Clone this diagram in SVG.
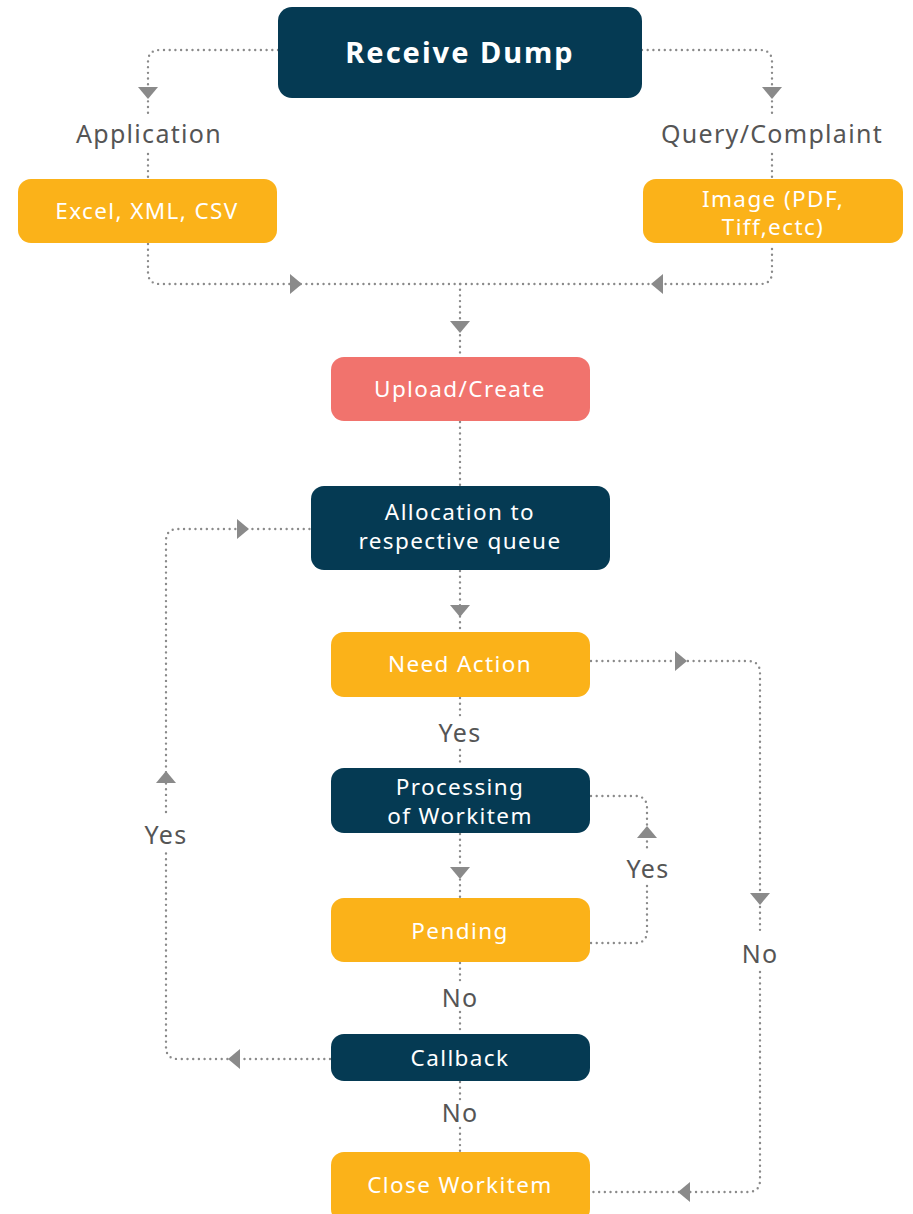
<svg xmlns="http://www.w3.org/2000/svg" width="913" height="1214" viewBox="0 0 913 1214">
<style>
.dark{fill:#053a53}
.org{fill:#fbb219}
.sal{fill:#f1736d}
.t{font-family:"Noto Sans","Open Sans",sans-serif;fill:#fff;font-size:22.5px;letter-spacing:1.4px;text-anchor:middle}
.lb{font-family:"Noto Sans","Open Sans",sans-serif;fill:#555;font-size:25px;letter-spacing:1.3px;text-anchor:middle}
.c{fill:none;stroke:#8a8a8a;stroke-width:2.4;stroke-linecap:round;stroke-dasharray:0 5.7}
.ah{fill:#8a8a8a}
</style>
<defs>
<path id="ar" d="M-5,-10 L7,0 L-5,10 Z"/>
</defs>
<rect width="913" height="1214" fill="#fff"/>
<g id="connectors">
<path class="c" d="M278,50 H160 Q148,50 148,62 V118"/>
<path class="c" d="M148,154 V178"/>
<path class="c" d="M642,50 H760 Q772,50 772,62 V118"/>
<path class="c" d="M772,154 V178"/>
<path class="c" d="M148,244 V272 Q148,284 160,284 H760 Q772,284 772,272 V244"/>
<path class="c" d="M460,284 V356"/>
<path class="c" d="M460,422 V486"/>
<path class="c" d="M460,571 V631"/>
<path class="c" d="M460,698 V718"/>
<path class="c" d="M460,750 V767"/>
<path class="c" d="M460,834 V897"/>
<path class="c" d="M460,963 V985"/>
<path class="c" d="M460,1012 V1033"/>
<path class="c" d="M460,1082 V1100"/>
<path class="c" d="M460,1128 V1151"/>
<path class="c" d="M591,661 H748 Q760,661 760,673 V935"/>
<path class="c" d="M760,972 V1180 Q760,1192 748,1192 H591"/>
<path class="c" d="M591,796 H635 Q647,796 647,808 V850"/>
<path class="c" d="M647,886 V931 Q647,943 635,943 H591"/>
<path class="c" d="M330,1059 H178 Q166,1059 166,1047 V852"/>
<path class="c" d="M166,812 V541 Q166,529 178,529 H310"/>
<g class="ah">
<use href="#ar" transform="translate(148,92) rotate(90)"/>
<use href="#ar" transform="translate(772,92) rotate(90)"/>
<use href="#ar" transform="translate(295,284)"/>
<use href="#ar" transform="translate(658,284) rotate(180)"/>
<use href="#ar" transform="translate(460,326) rotate(90)"/>
<use href="#ar" transform="translate(460,610) rotate(90)"/>
<use href="#ar" transform="translate(460,872) rotate(90)"/>
<use href="#ar" transform="translate(680,661)"/>
<use href="#ar" transform="translate(760,898) rotate(90)"/>
<use href="#ar" transform="translate(685,1192) rotate(180)"/>
<use href="#ar" transform="translate(647,833) rotate(-90)"/>
<use href="#ar" transform="translate(235,1059) rotate(180)"/>
<use href="#ar" transform="translate(166,778) rotate(-90)"/>
<use href="#ar" transform="translate(242,529)"/>
</g>
</g>
<g id="labels">
<text class="lb" x="149" y="143">Application</text>
<text class="lb" x="772" y="143">Query/Complaint</text>
<text class="lb" x="460" y="742">Yes</text>
<text class="lb" x="460" y="1007">No</text>
<text class="lb" x="460" y="1122">No</text>
<text class="lb" x="760" y="963">No</text>
<text class="lb" x="648" y="878">Yes</text>
<text class="lb" x="166" y="844">Yes</text>
</g>
<g id="receive-dump">
<rect class="dark" x="278" y="7" width="364" height="91" rx="14"/>
<text class="t" x="460" y="63" style="font-size:29px;font-weight:bold;letter-spacing:2px">Receive Dump</text>
</g>
<g id="excel">
<rect class="org" x="18" y="179" width="259" height="64" rx="13"/>
<text class="t" x="147" y="219">Excel, XML, CSV</text>
</g>
<g id="image">
<rect class="org" x="643" y="179" width="260" height="64" rx="13"/>
<text class="t" x="773" y="207">Image (PDF,</text>
<text class="t" x="773" y="235">Tiff,ectc)</text>
</g>
<g id="upload">
<rect class="sal" x="331" y="357" width="259" height="64" rx="13"/>
<text class="t" x="460" y="397">Upload/Create</text>
</g>
<g id="allocation">
<rect class="dark" x="311" y="486" width="299" height="84" rx="13"/>
<text class="t" x="460" y="520">Allocation to</text>
<text class="t" x="460" y="549">respective queue</text>
</g>
<g id="need-action">
<rect class="org" x="331" y="632" width="259" height="65" rx="13"/>
<text class="t" x="460" y="672">Need Action</text>
</g>
<g id="processing">
<rect class="dark" x="331" y="768" width="259" height="65" rx="13"/>
<text class="t" x="460" y="795">Processing</text>
<text class="t" x="460" y="824">of Workitem</text>
</g>
<g id="pending">
<rect class="org" x="331" y="898" width="259" height="64" rx="13"/>
<text class="t" x="460" y="939">Pending</text>
</g>
<g id="callback">
<rect class="dark" x="331" y="1034" width="259" height="47" rx="13"/>
<text class="t" x="460" y="1066">Callback</text>
</g>
<g id="close">
<rect class="org" x="331" y="1152" width="259" height="70" rx="13"/>
<text class="t" x="460" y="1193">Close Workitem</text>
</g>
</svg>
